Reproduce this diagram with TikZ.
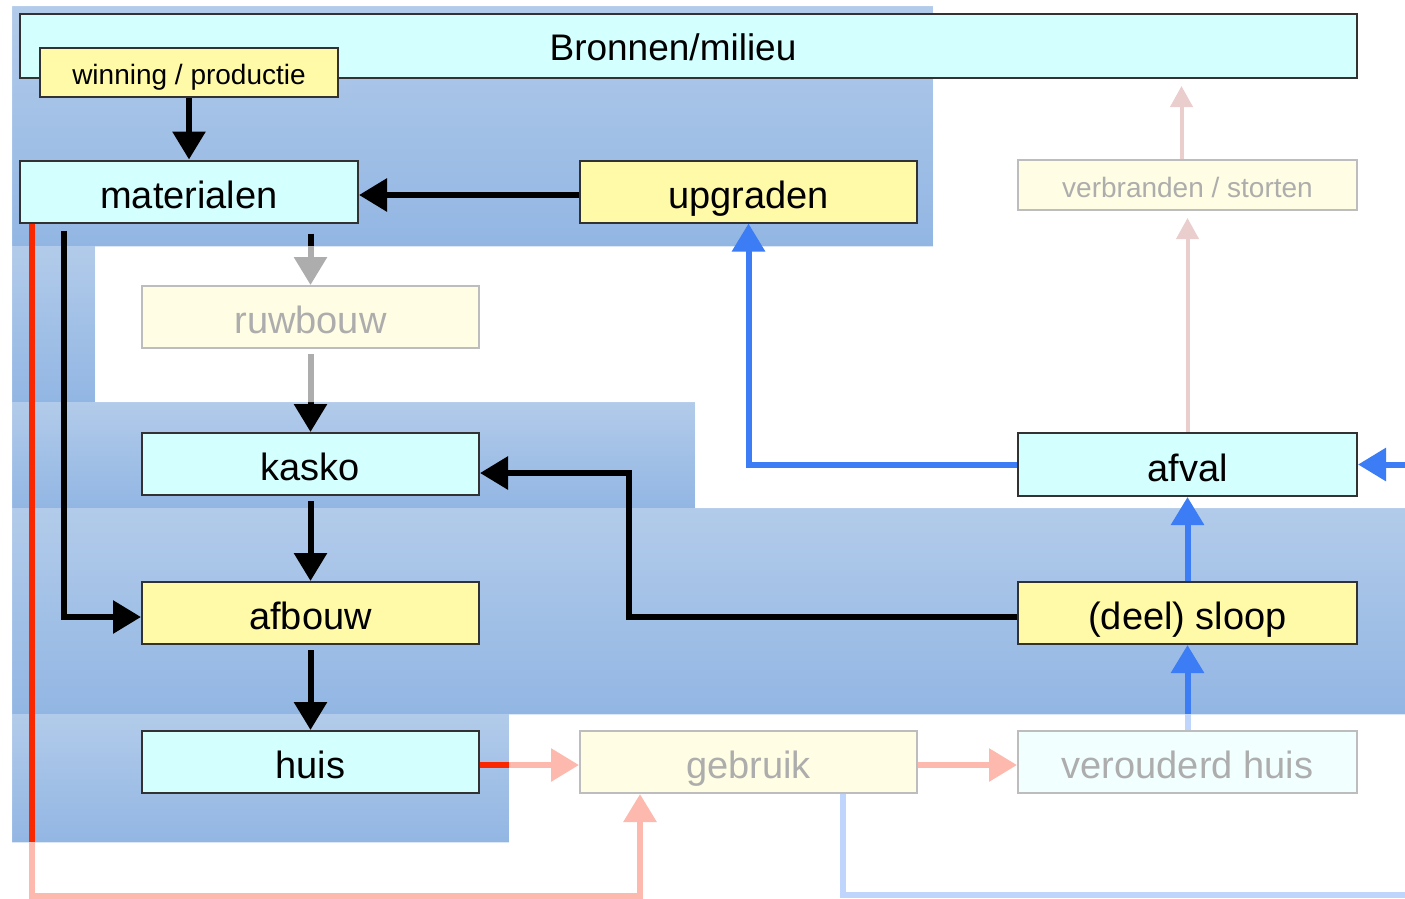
\documentclass[tikz,border=0pt]{standalone}
\usepackage{fontspec}
\setmainfont{Liberation Sans}
\usetikzlibrary{arrows.meta,calc}
\definecolor{cyanfill}{RGB}{212,255,255}
\definecolor{yelfill}{RGB}{255,250,168}
\definecolor{boxline}{RGB}{50,50,50}
\definecolor{bgtop}{RGB}{178,203,234}
\definecolor{bgbot}{RGB}{146,182,227}
\definecolor{redline}{RGB}{250,40,0}
\definecolor{blueline}{RGB}{60,125,245}
\definecolor{brownline}{RGB}{190,100,100}
\definecolor{brownfaded}{RGB}{234,205,205}
\begin{document}
\begin{tikzpicture}[x=1pt,y=-1pt,
  box/.style={draw=boxline,line width=2pt,inner sep=0pt,text height=33pt,text depth=0pt,
    font=\fontsize{38}{40}\selectfont,minimum height=62pt,minimum width=337pt},
  cy/.style={box,fill=cyanfill},
  ye/.style={box,fill=yelfill},
  small/.style={font=\fontsize{28}{30}\selectfont,text height=25pt},
  region/.style={top color=bgtop,bottom color=bgbot,draw=none},
  karr/.style={draw=black,line width=6pt,-{Triangle[length=28pt,width=32pt]}},
  rarr/.style={draw=redline,line width=6pt,-{Triangle[length=28pt,width=32pt]}},
  barr/.style={draw=blueline,line width=6pt,-{Triangle[length=28pt,width=32pt]}},
  bline/.style={draw=blueline,line width=6pt},
  parr/.style={draw=brownline,line width=4pt,-{Triangle[length=21pt,width=22pt]},shorten >=7pt}
]
\useasboundingbox (0,0) rectangle (1405,898);
% highlighted regions
\fill[region] (12,6) rectangle (933,246);
\fill[region] (12,246) rectangle (95,402);
\fill[region] (12,402) rectangle (695,508);
\fill[region] (12,508) rectangle (1405,714);
\fill[region] (12,714) rectangle (509,842);

% boxes (fadeable)
\node[cy,minimum width=338pt] (mat) at (189,191.5) {materialen};
\node[ye] (upg) at (748.5,191.5) {upgraden};
\node[ye] (rb) at (310.5,317) {ruwbouw};
\node[cy] (kas) at (310.5,464) {kasko};
\node[ye] (afb) at (310.5,613) {afbouw};
\node[cy] (huis) at (310.5,762) {huis};
\node[ye] (geb) at (748.5,762) {gebruik};
\node[cy,minimum width=339pt] (ver) at (1187.5,762) {verouderd huis};
\node[ye,minimum width=339pt] (sloop) at (1187.5,613) {(deel) sloop};
\node[ye,small,minimum width=339pt,minimum height=50pt] (vbr) at (1187.5,185) {verbranden / storten};
\coordinate (afvpos) at (1187.5,464.5);
\coordinate (eR) at (1405,895);
\coordinate (eA) at (1405,464.5);

% connectors (fadeable)
\draw[karr] ([yshift=-3.5pt]upg.west) -- ([yshift=-3.5pt]mat.east);
\draw[karr,shorten <=10pt] (rb.north |- mat.south) -- (rb.north);
\draw[karr,shorten <=5pt] (rb) -- (kas);
\draw[karr,shorten <=5pt] (kas) -- (afb);
\draw[karr,shorten <=5pt] (afb) -- (huis);
\draw[karr,shorten <=7pt] ([xshift=45pt]mat.south west) |- ([yshift=-4pt]afb.west);
\draw[karr] ([yshift=-4pt]sloop.west) -| ([xshift=149pt,yshift=-9pt]kas.east) -- ([yshift=-9pt]kas.east);
\draw[rarr] ([yshift=-3pt]huis.east) -- ([yshift=-3pt]geb.west);
\draw[rarr] ([yshift=-3pt]geb.east) -- ([yshift=-3pt]ver.west);
\draw[rarr] ([xshift=13pt]mat.south west) |- ([xshift=-108.5pt,yshift=-102pt]geb.south) -- ([xshift=-108.5pt]geb.south);
\draw[bline] ([xshift=94.5pt]geb.south) |- (eR);
\draw[barr] (ver) -- (sloop);
\draw[parr] ([yshift=31.5pt]afvpos) -- (vbr.south);

% fade everything outside the highlighted regions
\fill[white,opacity=0.68,even odd rule] (-10,-10) rectangle (1415,910)
  (12,6) -- (933,6) -- (933,246) -- (95,246) -- (95,402) -- (695,402) -- (695,508)
  -- (1405,508) -- (1405,714) -- (509,714) -- (509,842) -- (12,842) -- cycle;

% unfaded elements
\node[cy,minimum width=1337pt,minimum height=64pt,text height=28pt,font=\fontsize{37}{40}\selectfont] (bron) at (688.5,46) {\hspace*{-31pt}Bronnen/milieu};
\node[ye,small,minimum width=298pt,minimum height=49pt,text height=23pt] (win) at (189,72.5) {winning / productie};
\draw[karr] (win) -- (mat);
\draw[parr,draw=brownfaded,fill=brownfaded] ([xshift=-6pt]vbr.north) -- ([xshift=-6pt]vbr.north |- bron.south);
\node[cy,minimum width=339pt,minimum height=63pt] (afv) at (afvpos) {afval};
\draw[barr] (sloop) -- (afv);
\draw[barr] (eA) -- (afv.east);
\draw[barr] (afv.west) -| (upg.south);
\end{tikzpicture}
\end{document}
